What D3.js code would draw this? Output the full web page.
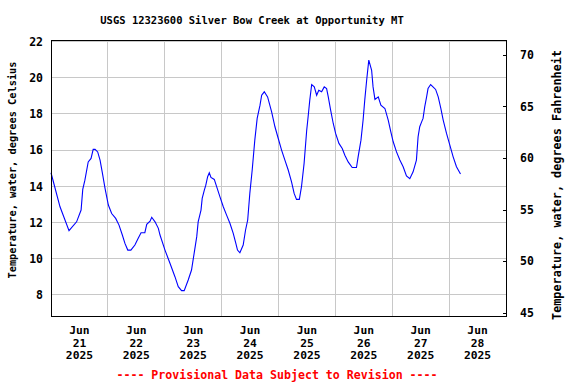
<!DOCTYPE html>
<html>
<head>
<meta charset="utf-8">
<script src="https://cdn.jsdelivr.net/npm/d3@7"></script>
<style>
  body { margin: 0; background: #fff; }
  text { font-family: "DejaVu Sans Mono", monospace; font-weight: bold; }
</style>
</head>
<body>
<svg id="chart"></svg>
<script>
(function() {

    // Data: hours since 2025-06-21 00:00, water temp in deg C.
    const startDate = new Date(2025, 5, 21, 0, 0);
    const hours = [
        0, 3.8, 7.6, 10.8, 12.7, 13.4, 14.3, 15.7, 16.9, 17.8, 18.6, 19.7, 20.7, 21.6, 22.8,
        24.2, 25.6, 27.3, 28.7, 30.1, 31.2, 32.4, 33.7, 35.4, 36.8, 38.0, 39.6, 40.4, 41.8, 42.5,
        43.9, 45.3, 46.0, 48.1, 50.2, 52.3, 53.7, 55.1, 56.2, 57.9, 59.3, 60.4, 61.5, 62.1, 63.3,
        63.8, 64.7, 65.3, 66.1, 66.8, 67.5, 68.9, 69.9, 71.3, 72.7, 74.1, 75.5, 76.9, 78.0, 78.7,
        79.7, 81.1, 82.1, 83.0, 83.9, 84.9, 86.0, 87.0, 88.2, 88.9, 90.0, 91.4, 93.1, 94.5, 95.9,
        97.3, 98.7, 100.1, 101.5, 102.6, 103.6, 104.8, 105.7, 106.8, 107.9, 108.5, 109.2, 110.0, 111.1, 112.1,
        113.0, 114.2, 115.3, 116.3, 117.0, 118.0, 119.1, 120.1, 121.5, 122.9, 124.0, 125.4, 127.1, 128.9, 129.6,
        130.8, 131.7, 132.4, 133.2, 134.1, 135.3, 135.9, 136.7, 138.1, 139.2, 140.9, 142.3, 143.4, 144.4, 145.8,
        147.2, 148.6, 150.0, 151.4, 152.8, 154.2, 154.9, 155.6, 156.4, 157.0, 157.7, 158.5, 159.1, 160.2, 161.2,
        162.3, 163.4, 164.5, 165.5, 166.9, 168.3, 169.7, 171.1, 172.8
    ];
    const tempC = [
        14.75, 12.87, 11.55, 12.04, 12.69, 13.83, 14.34, 15.35, 15.54, 16.04, 16.04, 15.9, 15.45, 14.8, 13.89,
        12.97, 12.5, 12.23, 11.86, 11.31, 10.85, 10.48, 10.48, 10.76, 11.13, 11.44, 11.44, 11.9, 12.08, 12.29,
        12.04, 11.68, 11.31, 10.48, 9.75, 9.01, 8.46, 8.24, 8.24, 8.83, 9.38, 10.3, 11.22, 12.04, 12.69,
        13.33, 13.79, 14.05, 14.53, 14.75, 14.49, 14.38, 13.98, 13.42, 12.87, 12.41, 11.96, 11.4, 10.85, 10.48,
        10.33, 10.76, 11.59, 12.14, 13.61, 14.9, 16.55, 17.75, 18.48, 19.03, 19.22, 18.94, 18.11, 17.29, 16.64,
        16.0, 15.45, 14.9, 14.25, 13.61, 13.28, 13.28, 13.98, 15.27, 17.1, 17.84, 18.76, 19.62, 19.49, 19.03,
        19.31, 19.22, 19.49, 19.4, 18.94, 18.21, 17.47, 16.92, 16.37, 16.09, 15.72, 15.35, 15.04, 15.04, 15.63,
        16.55, 17.66, 18.76, 19.86, 20.97, 20.41, 19.49, 18.8, 18.94, 18.48, 18.3, 17.66, 17.01, 16.46, 15.9,
        15.45, 15.08, 14.57, 14.42, 14.8, 15.45, 16.73, 17.29, 17.56, 17.75, 18.39, 18.94, 19.4, 19.62, 19.49,
        19.35, 18.94, 18.3, 17.66, 16.92, 16.28, 15.63, 15.08, 14.68
    ];

    const celsiusTicks = [8, 10, 12, 14, 16, 18, 20, 22];
    const fahrenheitTicks = [45, 50, 55, 60, 65, 70];
    const dayLabels = ['21', '22', '23', '24', '25', '26', '27', '28'];

    const w = 576;
    const h = 384;
    const left = 51, right = 506, top = 40, bottom = 316;

    const data = hours.map((hr, i) => [new Date(startDate.getTime() + hr * 3600e3), tempC[i]]);

    // Scales
    const scaleX = d3.scaleTime()
        .domain([startDate, new Date(2025, 5, 29, 0, 0)])
        .range([left, right]);
    const scaleY = d3.scaleLinear().domain([6.84, 22.08]).range([bottom, top]);
    const scaleF = d3.scaleLinear().domain([44.68, 71.45]).range([bottom, top]);

    const svg = d3.select('#chart')
        .attr('width', w)
        .attr('height', h);

    // Grid lines
    const days = d3.timeDay.range(new Date(2025, 5, 22), new Date(2025, 5, 29));
    svg.append('g')
        .attr('shape-rendering', 'crispEdges')
        .selectAll('line')
        .data(days)
        .join('line')
        .attr('x1', d => scaleX(d)).attr('x2', d => scaleX(d))
        .attr('y1', top).attr('y2', bottom)
        .attr('stroke', '#c8c8c8');

    svg.append('g')
        .attr('shape-rendering', 'crispEdges')
        .selectAll('line')
        .data(celsiusTicks)
        .join('line')
        .attr('x1', left).attr('x2', right)
        .attr('y1', d => scaleY(d)).attr('y2', d => scaleY(d))
        .attr('stroke', '#c8c8c8');

    // Data line
    const line = d3.line()
        .x(d => scaleX(d[0]))
        .y(d => scaleY(d[1]));

    svg.append('path')
        .datum(data)
        .attr('d', line)
        .attr('fill', 'none')
        .attr('stroke', '#0000ff')
        .attr('stroke-width', 1.1);

    // Frame
    svg.append('rect')
        .attr('x', left + 0.5).attr('y', top + 0.5)
        .attr('width', right - left).attr('height', bottom - top)
        .attr('fill', 'none')
        .attr('shape-rendering', 'crispEdges')
        .attr('stroke', '#000');

    // Left axis labels
    const yAxis = d3.axisLeft(scaleY).tickValues(celsiusTicks).tickSize(0).tickPadding(8);
    const gy = svg.append('g')
        .attr('transform', `translate(${left}, 0)`)
        .call(yAxis);
    gy.select('.domain').remove();
    gy.selectAll('text').attr('font-size', 11.5).attr('fill', '#000')
        .style('font-family', '"DejaVu Sans Mono", monospace').style('font-weight', 'bold');

    // Right axis: Fahrenheit, ticks pointing inside
    const fAxis = d3.axisLeft(scaleF).tickValues(fahrenheitTicks).tickSize(4).tickPadding(-17);
    const gf = svg.append('g')
        .attr('transform', `translate(${right + 1}, 0)`)
        .call(fAxis);
    gf.select('.domain').remove();
    gf.selectAll('line').attr('stroke', '#000').attr('shape-rendering', 'crispEdges');
    gf.selectAll('text').attr('font-size', 11.5).attr('fill', '#000').attr('text-anchor', 'start')
        .style('font-family', '"DejaVu Sans Mono", monospace').style('font-weight', 'bold');

    // Bottom axis labels, centered at noon
    const xLab = svg.append('g')
        .selectAll('text')
        .data(dayLabels)
        .join('text')
        .attr('text-anchor', 'middle')
        .attr('font-size', 11.3)
        .attr('x', (d, i) => scaleX(d3.timeHour.offset(startDate, 24 * i + 12)));
    xLab.append('tspan').attr('y', 334).attr('x', function() { return this.parentNode.getAttribute('x'); }).text('Jun');
    xLab.append('tspan').attr('y', 346.6).attr('x', function() { return this.parentNode.getAttribute('x'); }).text(d => d);
    xLab.append('tspan').attr('y', 359.2).attr('x', function() { return this.parentNode.getAttribute('x'); }).text('2025');

    // Title
    svg.append('text')
        .attr('x', 252).attr('y', 24)
        .attr('text-anchor', 'middle')
        .attr('font-size', 10.5)
        .text('USGS 12323600 Silver Bow Creek at Opportunity MT');

    // Axis titles
    svg.append('text')
        .attr('transform', 'translate(16, 170) rotate(-90)')
        .attr('text-anchor', 'middle')
        .attr('font-size', 10.3)
        .text('Temperature, water, degrees Celsius');

    svg.append('text')
        .attr('transform', 'translate(561, 185) rotate(-90)')
        .attr('text-anchor', 'middle')
        .attr('font-size', 11.8)
        .text('Temperature, water, degrees Fahrenheit');

    // Provisional note
    svg.append('text')
        .attr('x', 277).attr('y', 378.5)
        .attr('text-anchor', 'middle')
        .attr('font-size', 11.6)
        .attr('fill', '#ff0000')
        .text('---- Provisional Data Subject to Revision ----');

})();
</script>
</body>
</html>
